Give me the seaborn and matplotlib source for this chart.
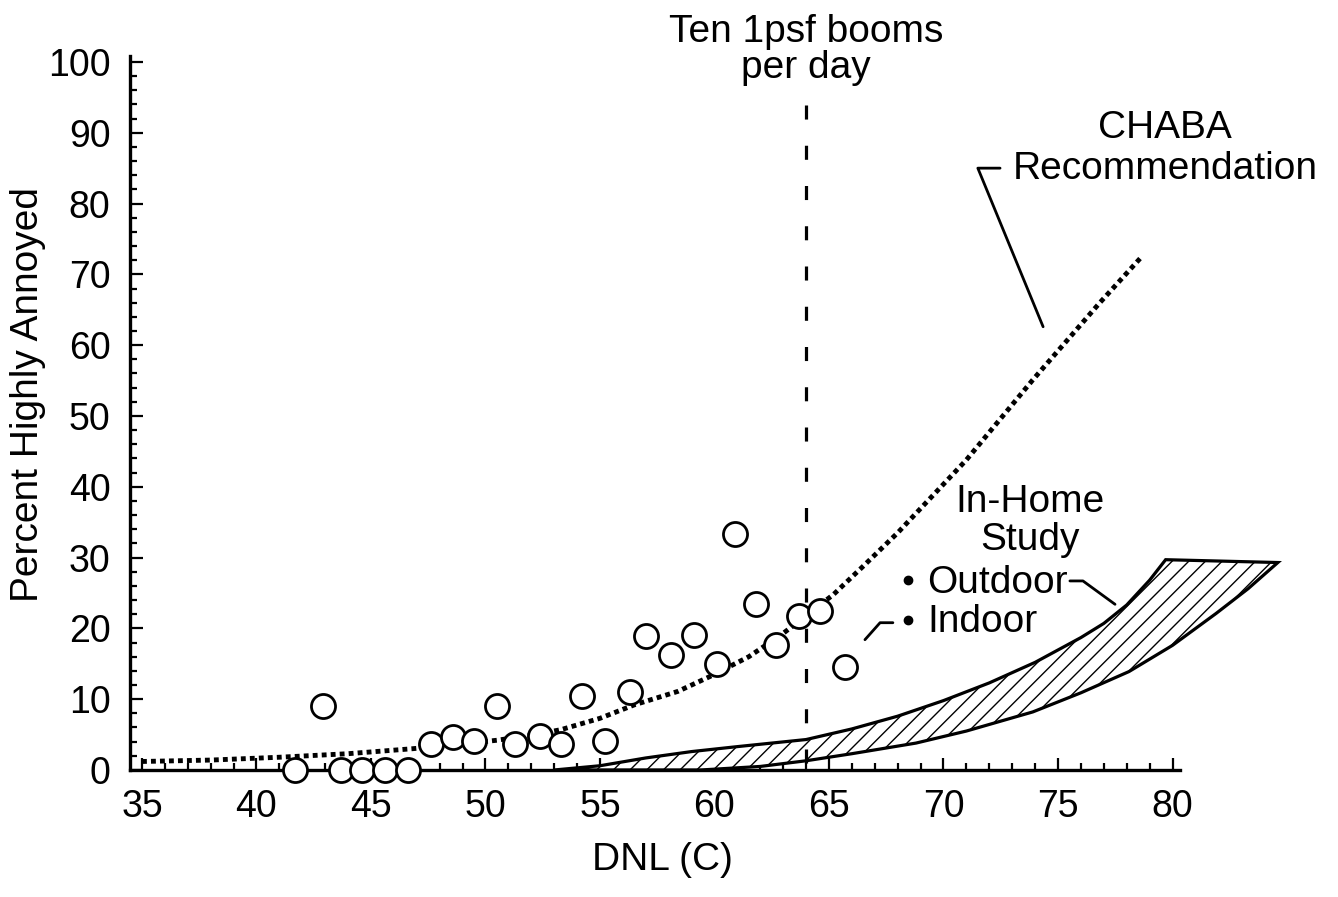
import numpy as np
import matplotlib
matplotlib.use('Agg')
import matplotlib.pyplot as plt
import seaborn as sns

# survey points (DNL(C), percent highly annoyed)
dnl = [41.7, 42.9, 43.7, 44.6, 45.6, 46.6, 47.6, 48.6, 49.5, 50.5, 51.3, 52.4, 53.3,
       54.2, 55.2, 56.3, 57.0, 58.1, 59.1, 60.1, 60.9, 61.8, 62.7, 63.7, 64.6, 65.7]
pha = [0.0, 9.1, 0.0, 0.0, 0.0, 0.0, 3.7, 4.6, 4.1, 9.1, 3.6, 4.8, 3.6,
       10.4, 4.1, 11.0, 18.9, 16.2, 19.0, 15.0, 33.3, 23.4, 17.6, 21.7, 22.5, 14.6]

# CHABA recommendation curve
chaba_x = [35.0, 38.0, 41.0, 44.0, 46.8, 48.5, 50.5, 52.0, 53.3, 55.0, 56.5, 58.4,
           59.8, 61.5, 63.0, 65.2, 66.5, 68.0, 71.0, 73.9, 76.8, 78.6]
chaba_y = [1.2, 1.4, 1.8, 2.3, 3.0, 3.5, 4.2, 4.9, 5.7, 7.3, 9.2, 11.1,
           13.2, 16.0, 19.3, 24.8, 28.8, 33.5, 43.8, 55.1, 65.9, 72.3]

# In-Home study band (upper edge, then lower edge back)
upper_x = [53.0, 55.0, 57.0, 59.0, 61.0, 62.5, 64.0, 66.0, 68.0, 70.0, 72.0, 74.0,
           76.0, 77.0, 78.0, 79.0, 79.7]
upper_y = [0.0, 0.6, 1.7, 2.6, 3.3, 3.8, 4.3, 5.8, 7.6, 9.8, 12.3, 15.2,
           18.7, 20.7, 23.3, 26.8, 29.7]
lower_x = [84.6, 83.3, 81.9, 80.0, 78.1, 76.0, 73.9, 71.0, 68.8, 66.0, 64.0, 62.0,
           59.4, 56.0, 53.0]
lower_y = [29.3, 25.6, 22.1, 17.6, 13.9, 10.9, 8.2, 5.5, 3.8, 2.3, 1.3, 0.5,
           0.0, 0.0, 0.0]

boom_dnl = 64.0

sns.set_style('ticks')
plt.rcParams['font.family'] = ['Liberation Sans', 'DejaVu Sans']
plt.rcParams['hatch.linewidth'] = 1.0
plt.rcParams['text.color'] = 'black'
plt.rcParams['axes.labelcolor'] = 'black'
plt.rcParams['xtick.color'] = 'black'
plt.rcParams['ytick.color'] = 'black'
plt.rcParams['axes.edgecolor'] = 'black'

fig = plt.figure(figsize=(13.38, 8.97), dpi=100)
ax = fig.add_axes([130 / 1338, 1 - 800 / 897, 1160 / 1338, 760 / 897])
ax.set_xlim(34.476, 85.131)
ax.set_ylim(-4.24, 103.1)

# band
ax.fill(upper_x + lower_x, upper_y + lower_y, facecolor='white', edgecolor='black',
        hatch='//', linewidth=2.3, zorder=2, clip_on=False)

sns.lineplot(x=chaba_x, y=chaba_y, ax=ax, color='black', lw=3.5, sort=False,
             estimator=None, linestyle=(0, (1, 0.85)), dash_capstyle='butt', zorder=3)

ax.plot([boom_dnl, boom_dnl], [93.9, 0], color='black', lw=2.3,
        linestyle=(0, (4.4, 8.2)), zorder=3, clip_on=False)

sns.scatterplot(x=dnl, y=pha, ax=ax, marker='o', s=300, facecolor='white',
                edgecolor='black', linewidth=2.0, zorder=5, clip_on=False)

# spines and ticks
for s in ['top', 'right']:
    ax.spines[s].set_visible(False)
ax.spines['bottom'].set_position(('data', 0))
ax.spines['left'].set_position(('data', 34.476))
ax.spines['bottom'].set_bounds(34.476, 80.33)
ax.spines['left'].set_bounds(0, 100.8)
ax.spines['bottom'].set_linewidth(2.4)
ax.spines['left'].set_linewidth(2.4)
ax.spines['bottom'].set_zorder(2.5)

ax.set_xticks(np.arange(35, 81, 5))
ax.set_xticks(np.arange(35, 81, 1), minor=True)
ax.set_yticks(np.arange(0, 101, 10))
ax.set_yticks(np.arange(0, 101, 2), minor=True)
ax.tick_params(which='both', direction='in', width=1.6, color='black')
ax.tick_params(which='major', length=9, labelsize=27, pad=14)
ax.tick_params(which='minor', length=5)

ax.set_xlabel('DNL (C)', fontsize=28)
ax.set_ylabel('Percent Highly Annoyed', fontsize=28)
ax.xaxis.set_label_coords(0.4586, -0.055)
ax.yaxis.set_label_coords(-0.072, 0.533)

# annotations
ax.text(boom_dnl, 102.8, 'Ten 1psf booms', ha='center', va='baseline', fontsize=28)
ax.text(boom_dnl, 97.8, 'per day', ha='center', va='baseline', fontsize=28)

ax.text(79.67, 89.3, 'CHABA', ha='center', va='baseline', fontsize=28)
ax.text(79.67, 83.5, 'Recommendation', ha='center', va='baseline', fontsize=28)
ax.plot([72.47, 71.5, 74.35], [85.0, 85.0, 62.6], color='black', lw=2.0)

ax.text(73.76, 36.5, 'In-Home', ha='center', va='baseline', fontsize=28)
ax.text(73.76, 31.1, 'Study', ha='center', va='baseline', fontsize=28)
ax.plot([68.47, 68.47], [26.8, 21.2], 'o', color='black', ms=6)
ax.text(69.28, 24.95, 'Outdoor', ha='left', va='baseline', fontsize=28)
ax.text(69.28, 19.5, 'Indoor', ha='left', va='baseline', fontsize=28)
ax.plot([75.52, 76.09, 77.49], [26.7, 26.7, 23.4], color='black', lw=2.0)
ax.plot([67.79, 67.23, 66.57], [20.8, 20.8, 18.4], color='black', lw=2.0)

fig.savefig('out.png', dpi=100)
